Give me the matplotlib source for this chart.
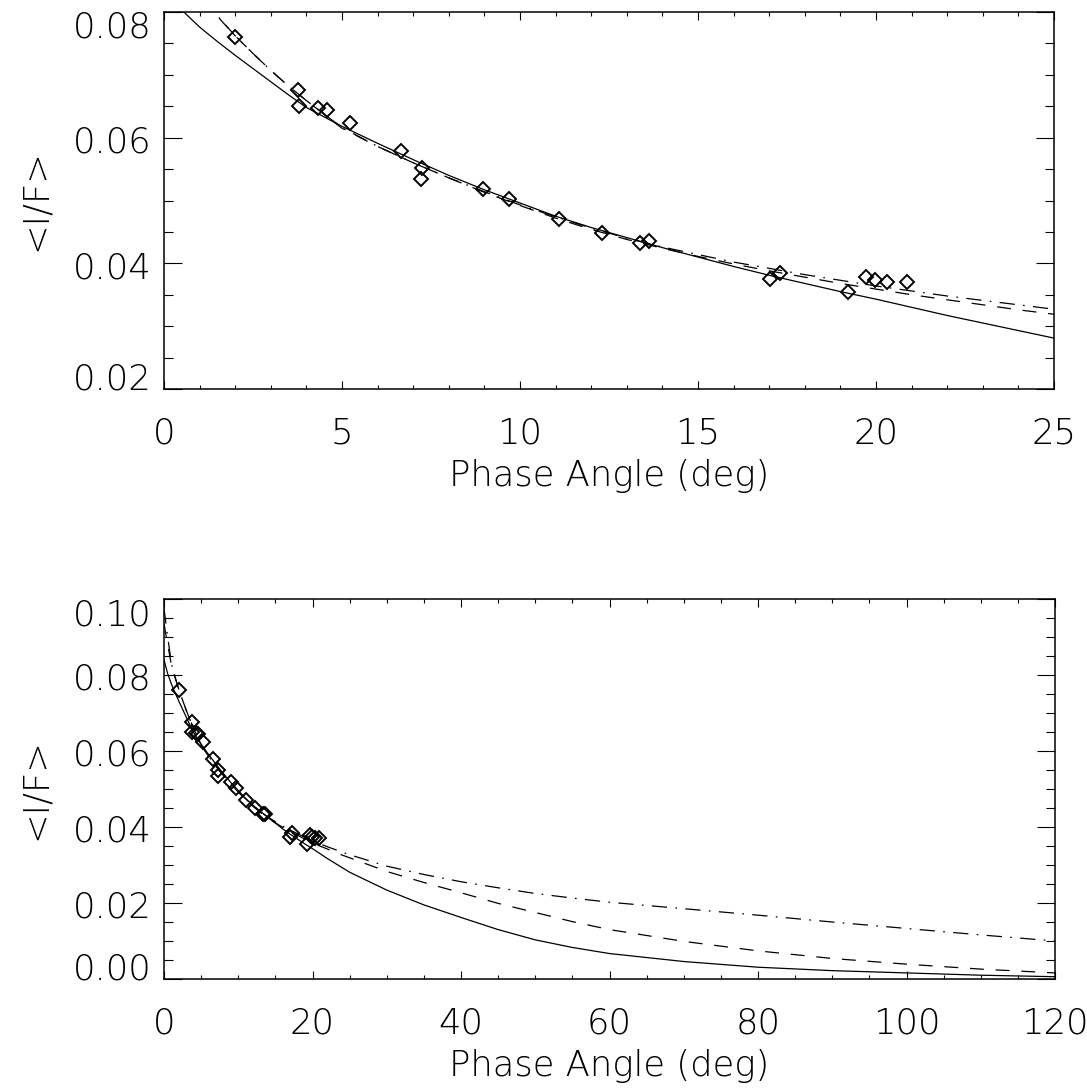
import matplotlib
matplotlib.use('Agg')
import matplotlib.pyplot as plt
from matplotlib.ticker import MultipleLocator, FixedLocator, NullFormatter, FormatStrFormatter
from matplotlib.transforms import offset_copy

plt.rcParams['font.family'] = ['DejaVu Sans']
plt.rcParams['font.weight'] = 'light'
plt.rcParams['axes.labelweight'] = 'light'
plt.rcParams['lines.scale_dashes'] = False

# ---- data ----
phase = [1.99, 3.76, 3.79, 4.33, 4.58, 5.22, 6.66, 7.25, 7.22, 8.96, 9.69,
         11.10, 12.30, 13.37, 13.62, 17.02, 17.30, 19.21, 19.72, 19.97, 20.31, 20.87]
iof = [0.0760, 0.0676, 0.0651, 0.0648, 0.0644, 0.0624, 0.0579, 0.0551, 0.0535, 0.0519, 0.0503,
       0.0470, 0.0449, 0.0433, 0.0435, 0.0375, 0.0384, 0.0354, 0.0379, 0.0373, 0.0371, 0.0370]

model_phase = [0, 0.5, 1, 1.5, 2, 2.5, 3, 3.5, 4, 5, 6, 7, 8, 9, 10, 11, 12, 13, 14, 15,
               16, 17, 18, 19, 20, 21, 22, 23, 24, 25, 30, 35, 40, 45, 50, 55, 60,
               70, 80, 90, 100, 110, 120]
model_solid = [0.0840, 0.0803, 0.0776, 0.0753, 0.0731, 0.0710, 0.0689, 0.0668, 0.0648,
               0.0618, 0.0591, 0.0565, 0.0540, 0.0517, 0.0496, 0.0475, 0.0457, 0.0441,
               0.0425, 0.0410, 0.0395, 0.0381, 0.0368, 0.0355, 0.0343, 0.0330, 0.0317,
               0.0305, 0.0293, 0.0281, 0.0234, 0.0195, 0.0162, 0.0130, 0.0103, 0.0083,
               0.0067, 0.0046, 0.0031, 0.0022, 0.0016, 0.0010, 0.0006]
model_dashed = [0.0935, 0.0880, 0.0826, 0.0793, 0.0762, 0.0734, 0.0707, 0.0682, 0.0659,
                0.0615, 0.0586, 0.0560, 0.0536, 0.0513, 0.0492, 0.0472, 0.0454, 0.0438,
                0.0424, 0.0411, 0.0399, 0.0388, 0.0378, 0.0368, 0.0359, 0.0350, 0.0342,
                0.0334, 0.0326, 0.0319, 0.0283, 0.0254, 0.0227, 0.0199, 0.0175, 0.0151,
                0.0130, 0.0099, 0.0074, 0.0054, 0.0039, 0.0026, 0.0016]
model_dashdot = [0.0975, 0.0900, 0.0830, 0.0794, 0.0762, 0.0734, 0.0707, 0.0682, 0.0659,
                 0.0616, 0.0586, 0.0560, 0.0536, 0.0514, 0.0493, 0.0474, 0.0456, 0.0440,
                 0.0426, 0.0414, 0.0402, 0.0392, 0.0382, 0.0373, 0.0364, 0.0356, 0.0348,
                 0.0341, 0.0334, 0.0327, 0.0297, 0.0275, 0.0256, 0.0240, 0.0225, 0.0213,
                 0.0202, 0.0185, 0.0168, 0.0150, 0.0133, 0.0116, 0.0100]

top_xticks = [0, 5, 10, 15, 20, 25]
top_yticks = [0.02, 0.04, 0.06, 0.08]
bot_xticks = [0, 20, 40, 60, 80, 100, 120]
bot_yticks = [0.00, 0.02, 0.04, 0.06, 0.08, 0.10]

x_label = 'Phase Angle (deg)'
y_label = '<I/F>'

FS = 25.5
W, H = 1087, 1088
fig = plt.figure(figsize=(W / 100, H / 100), dpi=100)
ax1 = fig.add_axes([164 / W, (H - 389) / H, 890 / W, 377 / H])
ax2 = fig.add_axes([164 / W, (H - 979) / H, 891 / W, 380 / H])


def setup(ax, xticks, xminor, yticks, yminor):
    ax.plot(model_phase, model_solid, color='black', lw=0.9, ls='-')
    ax.plot(model_phase, model_dashed, color='black', lw=0.9, ls=(0, (10, 8.5)))
    ax.plot(model_phase, model_dashdot, color='black', lw=0.9, ls=(0, (11, 6, 1.2, 6)))
    ax.plot(phase, iof, ls='none', marker='D', ms=7.3, mfc='none', mec='black', mew=1.4)
    ax.set_xlim(xticks[0], xticks[-1])
    ax.set_ylim(yticks[0], yticks[-1])
    ax.xaxis.set_major_locator(FixedLocator(xticks))
    ax.xaxis.set_minor_locator(MultipleLocator(xminor))
    ax.yaxis.set_major_locator(FixedLocator(yticks))
    ax.yaxis.set_minor_locator(MultipleLocator(yminor))
    ax.xaxis.set_major_formatter(FormatStrFormatter('%d'))
    ax.yaxis.set_major_formatter(NullFormatter())
    for s in ax.spines.values():
        s.set_linewidth(1.1)
        s.set_color('black')
    ax.tick_params(axis='both', which='both', direction='in', top=True, right=True,
                   width=0.8, color='black')
    ax.tick_params(axis='y', which='major', length=13)
    ax.tick_params(axis='y', which='minor', length=6.5)
    ax.tick_params(axis='x', which='major', length=5.5, pad=19.5, labelsize=FS)
    ax.tick_params(axis='x', which='minor', length=2.75)
    # y tick labels (IDL style placement: end labels pulled inside the range)
    for v in yticks:
        if v == yticks[-1]:
            dy = -26
        elif v == yticks[0]:
            dy = -1
        else:
            dy = -15
        tr = offset_copy(ax.get_yaxis_transform(), fig=fig, x=-12, y=dy, units='dots')
        ax.text(0, v, '%.2f' % v, transform=tr, ha='right', va='baseline',
                fontsize=FS, fontweight='light')
    ax.set_xlabel(x_label, fontsize=FS, fontweight='light', labelpad=6.5)
    ax.set_ylabel(y_label, fontsize=FS, fontweight='light')
    ax.yaxis.set_label_coords(-0.1253, 0.5)


setup(ax1, top_xticks, 1, top_yticks, 0.005)
setup(ax2, bot_xticks, 5, bot_yticks, 0.005)

fig.savefig('out.png', dpi=100, facecolor='white')
